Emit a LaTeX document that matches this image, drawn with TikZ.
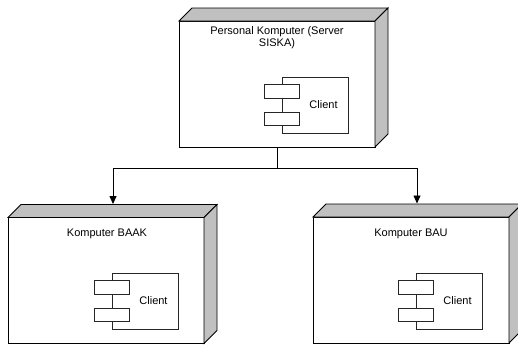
\documentclass[tikz,border=0pt]{standalone}
\usepackage{fontspec}
\setmainfont{Liberation Sans}
\usetikzlibrary{calc,arrows.meta}

\definecolor{sidegray}{HTML}{C0C0C0}

\tikzset{
  front/.style={draw=black, fill=white, line width=0.8pt, inner sep=0pt, outer sep=0pt,
                minimum width=196pt, minimum height=126pt},
  face/.style={draw=black, fill=sidegray, line width=0.8pt, line join=miter},
  comp/.style={draw=black!85, fill=white, line width=0.7pt, inner sep=0pt, outer sep=0pt,
               minimum width=66pt, minimum height=56pt},
  port/.style={draw=black!85, fill=white, line width=0.7pt, inner sep=0pt, outer sep=0pt,
               minimum width=35pt, minimum height=13.5pt},
  lbl/.style={font=\fontsize{11}{12.5}\selectfont, inner sep=0pt, align=center},
  conn/.style={draw=black, line width=0.8pt, -{Triangle[length=8pt,width=7pt]}},
}

\begin{document}
\begin{tikzpicture}[x=1pt,y=-1pt]
  \useasboundingbox (0,0) rectangle (518,346);

  % device nodes (front faces)
  \node[front] (pc)   at (277,84)  {};
  \node[front] (baak) at (106,280.5) {};
  \node[front] (bau)  at (411,280) {};

  % 3D top and side faces of each device
  \foreach \n in {pc,baak,bau}{
    \draw[face] (\n.north west) -- ($(\n.north west)+(13,-13)$)
                -- ($(\n.north east)+(13,-13)$) -- (\n.north east) -- cycle;
    \draw[face] (\n.north east) -- ($(\n.north east)+(13,-13)$)
                -- ($(\n.south east)+(13,-13)$) -- (\n.south east) -- cycle;
  }

  % device labels
  \node[lbl, anchor=north] (pclabel) at (277,26.3) {Personal Komputer (Server\\SISKA)};
  \node[lbl, anchor=base] (baaklabel) at (107,236.7) {Komputer BAAK};
  \node[lbl, anchor=base] (baulabel)  at (411,236.7) {Komputer BAU};

  % client components
  \foreach \c/\x/\y in {pcc/315/105, baakc/145/301, bauc/449/301}{
    \node[comp] (\c) at (\x,\y) {};
    \node[port] (\c-p1) at ($(\c.west)+(0,-13.5)$) {};
    \node[port] (\c-p2) at ($(\c.west)+(0,14)$) {};
    \node[lbl] (\c-t) at ($(\c.center)+(8.5,-0.5)$) {Client};
  }

  % connectors
  \coordinate (split)   at ($(pc.south)+(0,21)$);
  \coordinate (baaktop) at ($(baak.north)+(7,-13.5)$);
  \coordinate (bautop)  at ($(bau.north)+(6,-13.5)$);
  \draw[conn] (pc.south) -- (split) -| (baaktop);
  \draw[conn] (split) -| (bautop);
\end{tikzpicture}
\end{document}
